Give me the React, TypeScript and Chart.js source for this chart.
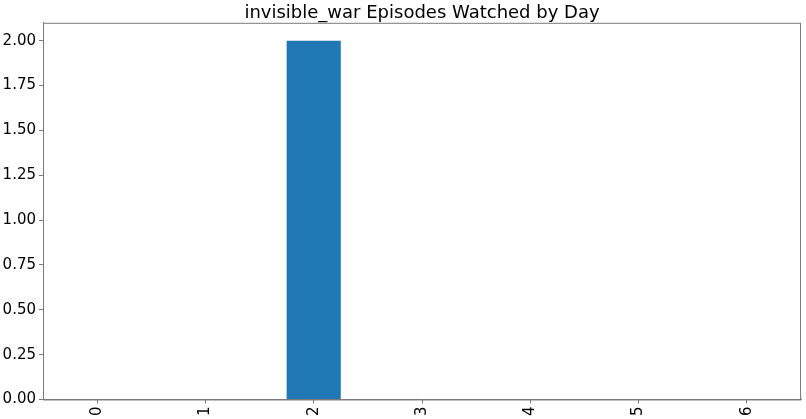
import { useEffect, useRef } from 'react'
import { Chart, registerables } from 'chart.js'

Chart.register(...registerables)

const days = ['0', '1', '2', '3', '4', '5', '6']
const episodes = [0, 0, 2, 0, 0, 0, 0]
const yTicks = [0, 0.25, 0.5, 0.75, 1.0, 1.25, 1.5, 1.75, 2.0]

const FONT = "'DejaVu Sans', sans-serif"
const SPINE = '#7a7a7a'

// draws the full axes box like matplotlib spines
const frame = {
  id: 'frame',
  afterDraw(chart: Chart) {
    const { ctx, chartArea } = chart
    ctx.save()
    ctx.strokeStyle = SPINE
    ctx.lineWidth = 1
    ctx.strokeRect(chartArea.left + 0.5, chartArea.top + 0.5, chartArea.right - chartArea.left - 1, chartArea.bottom - chartArea.top)
    ctx.restore()
  },
}

export default function App() {
  const chartRef = useRef<HTMLCanvasElement>(null)
  const chartInstance = useRef<Chart | null>(null)

  useEffect(() => {
    document.body.style.margin = '0'
    if (!chartRef.current) return
    if (chartInstance.current) chartInstance.current.destroy()

    chartInstance.current = new Chart(chartRef.current, {
      type: 'bar',
      data: {
        labels: days,
        datasets: [
          {
            data: episodes,
            backgroundColor: '#1f77b4',
            barPercentage: 0.5,
            categoryPercentage: 1,
          },
        ],
      },
      options: {
        animation: false,
        responsive: false,
        layout: { padding: { top: 0, right: 5, left: 0, bottom: 0 } },
        plugins: {
          legend: { display: false },
          tooltip: { enabled: false },
          title: {
            display: true,
            fullSize: false,
            text: 'invisible_war Episodes Watched by Day',
            color: '#000',
            font: { family: FONT, size: 18, weight: 'normal', lineHeight: 1.1 },
            padding: { top: 3, bottom: 0 },
          },
        },
        scales: {
          x: {
            offset: true,
            grid: { display: true, offset: false, drawOnChartArea: false, drawTicks: true, tickLength: 4, color: SPINE },
            border: { display: true, color: SPINE },
            ticks: {
              color: '#000',
              font: { family: FONT, size: 15 },
              maxRotation: 90,
              minRotation: 90,
              padding: 3,
            },
          },
          y: {
            min: 0,
            max: 2.1,
            afterBuildTicks: (axis: any) => {
              axis.ticks = yTicks.map((v) => ({ value: v }))
            },
            afterFit: (axis: any) => {
              axis.width = 43
            },
            grid: { display: true, drawOnChartArea: false, drawTicks: true, tickLength: 4, color: SPINE },
            border: { display: true, color: SPINE },
            ticks: {
              color: '#000',
              font: { family: FONT, size: 15 },
              padding: 3,
              callback: (v: any) => Number(v).toFixed(2),
            },
          },
        },
      },
      plugins: [frame],
    })

    return () => {
      if (chartInstance.current) chartInstance.current.destroy()
    }
  }, [])

  return (
    <div style={{ width: 806, height: 419 }}>
      <canvas ref={chartRef} width={806} height={419}></canvas>
    </div>
  )
}
